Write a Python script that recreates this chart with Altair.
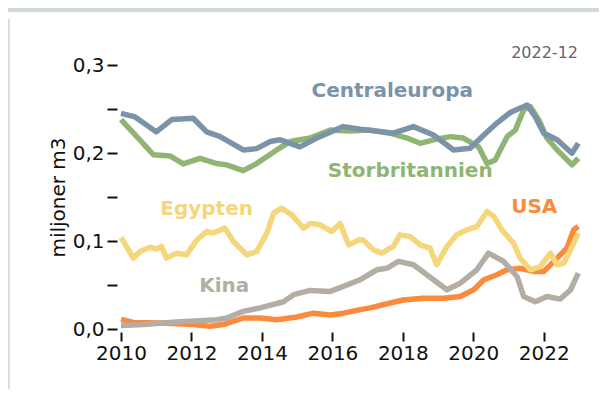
import altair as alt
import pandas as pd

# ---------------- data ----------------
cen_x = [2010.0, 2010.4, 2011.0, 2011.44, 2012.05, 2012.43, 2012.8, 2013.47, 2013.85, 2014.23,
         2014.52, 2015.08, 2015.56, 2016.31, 2016.79, 2017.45, 2017.73, 2018.3, 2018.87, 2019.44,
         2019.91, 2020.3, 2020.67, 2021.05, 2021.53, 2021.76, 2022.0, 2022.38, 2022.8, 2022.98]
cen_y = [0.245, 0.241, 0.224, 0.238, 0.2395, 0.224, 0.219, 0.2035, 0.205, 0.213,
         0.215, 0.207, 0.217, 0.230, 0.227, 0.224, 0.2225, 0.230, 0.2205, 0.2035,
         0.2055, 0.2205, 0.234, 0.246, 0.2546, 0.241, 0.2225, 0.215, 0.1998, 0.211]

gb_x = [2010.0, 2010.45, 2010.92, 2011.39, 2011.77, 2012.24, 2012.72, 2013.0, 2013.47, 2013.85,
        2014.42, 2014.8, 2015.37, 2015.94, 2016.5, 2017.07, 2017.64, 2018.12, 2018.49, 2018.87,
        2019.35, 2019.72, 2020.15, 2020.39, 2020.62, 2020.96, 2021.19, 2021.43, 2021.62, 2021.86,
        2022.09, 2022.38, 2022.8, 2022.98]
gb_y = [0.238, 0.2186, 0.198, 0.1967, 0.1876, 0.194, 0.188, 0.1865, 0.180, 0.188,
        0.2035, 0.213, 0.217, 0.226, 0.225, 0.226, 0.2225, 0.217, 0.211, 0.215,
        0.2186, 0.217, 0.207, 0.188, 0.192, 0.2186, 0.226, 0.249, 0.2527, 0.2376,
        0.217, 0.2035, 0.1865, 0.194]

egy_x = [2010.0, 2010.35, 2010.54, 2010.82, 2011.01, 2011.15, 2011.29, 2011.58, 2011.86, 2012.15,
         2012.43, 2012.62, 2012.95, 2013.19, 2013.57, 2013.85, 2014.14, 2014.33, 2014.56, 2014.85,
         2015.18, 2015.37, 2015.65, 2015.98, 2016.22, 2016.46, 2016.74, 2016.88, 2017.16, 2017.4,
         2017.73, 2017.92, 2018.21, 2018.49, 2018.77, 2018.96, 2019.25, 2019.53, 2019.82, 2020.1,
         2020.39, 2020.58, 2020.81, 2021.14, 2021.33, 2021.62, 2021.9, 2022.19, 2022.38, 2022.57,
         2022.76, 2022.98]
egy_y = [0.104, 0.0806, 0.088, 0.093, 0.091, 0.0938, 0.0806, 0.086, 0.0843, 0.101,
         0.1108, 0.109, 0.1146, 0.0994, 0.0843, 0.088, 0.109, 0.1317, 0.1373, 0.1297,
         0.1146, 0.120, 0.1184, 0.1108, 0.120, 0.0957, 0.101, 0.101, 0.090, 0.0862,
         0.0938, 0.107, 0.105, 0.0957, 0.092, 0.073, 0.0938, 0.107, 0.1127, 0.1165,
         0.1335, 0.128, 0.1127, 0.0976, 0.0806, 0.0673, 0.071, 0.0862, 0.073, 0.075,
         0.090, 0.109]

kin_x = [2010.0, 2010.63, 2011.58, 2012.72, 2013.0, 2013.47, 2013.95, 2014.61, 2014.9, 2015.37,
         2015.94, 2016.31, 2016.79, 2017.26, 2017.54, 2017.88, 2018.3, 2018.68, 2019.25, 2019.63,
         2020.1, 2020.43, 2020.86, 2021.24, 2021.43, 2021.76, 2022.09, 2022.47, 2022.76, 2022.98]
kin_y = [0.004, 0.005, 0.008, 0.0106, 0.0125, 0.020, 0.024, 0.031, 0.039, 0.0438,
         0.0427, 0.0484, 0.056, 0.0673, 0.069, 0.0768, 0.073, 0.0616, 0.0446, 0.052,
         0.0673, 0.0862, 0.0768, 0.0597, 0.037, 0.031, 0.037, 0.034, 0.0446, 0.0636]

usa_x = [2010.0, 2010.35, 2011.1, 2012.05, 2012.52, 2012.9, 2013.47, 2013.95, 2014.42, 2014.99,
         2015.46, 2015.94, 2016.31, 2016.79, 2017.07, 2017.64, 2018.01, 2018.58, 2019.15, 2019.63,
         2020.01, 2020.3, 2020.67, 2020.96, 2021.33, 2021.71, 2022.0, 2022.38, 2022.66, 2022.85,
         2022.98]
usa_y = [0.011, 0.0075, 0.0068, 0.005, 0.003, 0.005, 0.0125, 0.0125, 0.0106, 0.0136,
         0.018, 0.016, 0.018, 0.022, 0.024, 0.0295, 0.033, 0.035, 0.035, 0.037,
         0.0446, 0.056, 0.0616, 0.0673, 0.069, 0.0654, 0.0654, 0.0806, 0.092, 0.1127,
         0.1165]

# draw order (first = bottom)
series_names = ["USA", "Kina", "Egypten", "Storbritannien", "Centraleuropa"]
series_x = [usa_x, kin_x, egy_x, gb_x, cen_x]
series_y = [usa_y, kin_y, egy_y, gb_y, cen_y]
series_colors = ["#fc8a3d", "#b4ada3", "#f6d67b", "#8fb473", "#7b93a9"]

# direct labels (anchor in data coordinates)
label_x = [2021.73, 2012.93, 2012.43, 2018.21, 2017.70]
label_y = [0.1388, 0.0486, 0.1366, 0.1797, 0.2705]

y_ticks = [0.0, 0.05, 0.1, 0.15, 0.2, 0.25, 0.3]
x_ticks = [2010, 2012, 2014, 2016, 2018, 2020, 2022]
stamp_text = "2022-12"
y_title = "miljoner m3"

FONT = "DejaVu Sans"
W, H = 458, 264
PAD_L, PAD_T, PAD_R, PAD_B = 113, 57, 20, 60

x_scale = alt.Scale(domain=[2010, 2023], nice=False, zero=False)
y_scale = alt.Scale(domain=[0, 0.3], nice=False, zero=True)

x_axis = alt.Axis(values=x_ticks, format="d", title=None, domain=False, grid=False,
                  offset=3, tickSize=9, tickWidth=2, tickColor="#111111",
                  labelFont=FONT, labelFontSize=20, labelColor="#111111", labelPadding=2,
                  labelFlush=False, labelOverlap=False)
y_axis = alt.Axis(values=y_ticks, title=y_title, domain=False, grid=False,
                  offset=4, tickSize=10, tickWidth=2, tickColor="#111111",
                  labelExpr="round(datum.value*20) % 2 == 0 ? replace(format(datum.value, '.1f'), '.', ',') : ''",
                  labelFont=FONT, labelFontSize=20, labelColor="#111111", labelPadding=3,
                  titleFont=FONT, titleFontSize=20, titleFontWeight="normal",
                  titleColor="#111111", titlePadding=4, labelFlush=False)

layers = []

# decorative frame: top band and left rule
dummy = alt.Data(values=[{"a": 1}])
band = alt.Chart(dummy).mark_rect(color="#cfdcd5").encode(
    x=alt.value(-PAD_L), x2=alt.value(W + PAD_R), y=alt.value(-PAD_T), y2=alt.value(-PAD_T + 4))
edge = alt.Chart(dummy).mark_rect(color="#d6e1db").encode(
    x=alt.value(-PAD_L), x2=alt.value(-PAD_L + 2), y=alt.value(-46), y2=alt.value(H + PAD_B))
layers += [band, edge]

for name, xs, ys, col in zip(series_names, series_x, series_y, series_colors):
    df = pd.DataFrame({"year": xs, "value": ys, "serie": name})
    layers.append(
        alt.Chart(df).mark_line(color=col, strokeWidth=5.5, strokeJoin="round").encode(
            x=alt.X("year:Q", scale=x_scale, axis=x_axis),
            y=alt.Y("value:Q", scale=y_scale, axis=y_axis),
            order="year:Q")
    )

for name, lx, ly, col in zip(series_names, label_x, label_y, series_colors):
    ldf = pd.DataFrame({"year": [lx], "value": [ly], "txt": [name]})
    layers.append(
        alt.Chart(ldf).mark_text(font=FONT, fontSize=20, fontWeight="bold", color=col,
                                 align="center", baseline="middle").encode(
            x=alt.X("year:Q", scale=x_scale, axis=x_axis),
            y=alt.Y("value:Q", scale=y_scale, axis=y_axis),
            text="txt:N")
    )

stamp = alt.Chart(dummy).mark_text(font=FONT, fontSize=16, color="#5d6872",
                                   align="right", baseline="middle").encode(
    x=alt.value(457), y=alt.value(-12), text=alt.value(stamp_text))
layers.append(stamp)

chart = alt.layer(*layers).properties(
    width=W, height=H,
    autosize=alt.AutoSizeParams(type="none"),
    padding={"left": PAD_L, "top": PAD_T, "right": PAD_R, "bottom": PAD_B},
    background="white",
).configure_view(stroke=None)

chart.save("out.html", embed_options={"renderer": "svg", "actions": False})
